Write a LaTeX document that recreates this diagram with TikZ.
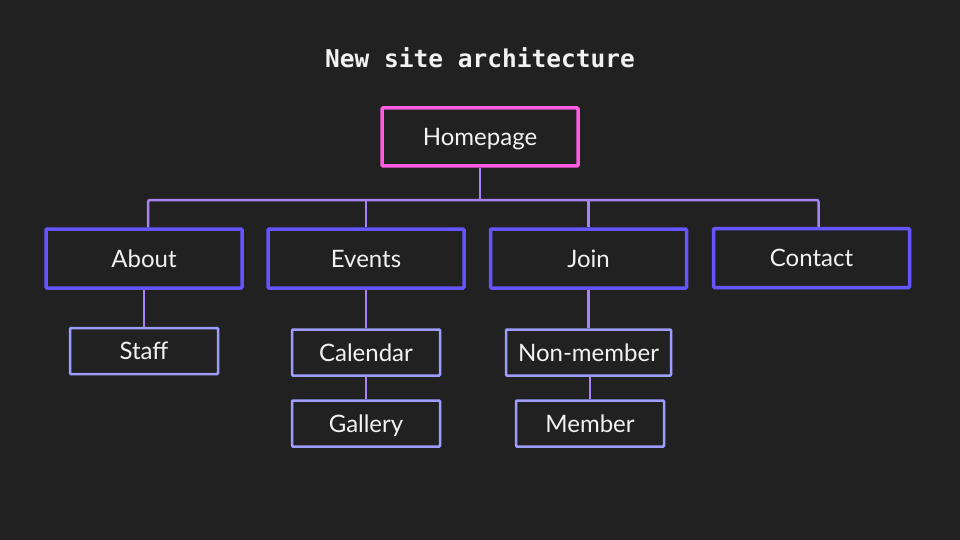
\documentclass[tikz,border=0pt]{standalone}
\usepackage{fontspec}
\setmainfont{Lato}
\newfontfamily\titlefont{DejaVu Sans Mono}
\definecolor{bg}{HTML}{212121}
\definecolor{pinkline}{HTML}{FF5CE1}
\definecolor{indigo}{HTML}{6655FF}
\definecolor{lavender}{HTML}{A882F7}
\definecolor{periwinkle}{HTML}{9D9DFF}
\definecolor{ink}{HTML}{F2F2F2}
\tikzset{
  page/.style={draw, rectangle, text=ink, font=\fontsize{24}{28}\selectfont,
    inner sep=0pt, text height=17.3pt, text depth=0pt, rounded corners=1pt},
  rootbox/.style={page, draw=pinkline, line width=3.5pt, minimum width=196pt, minimum height=58pt},
  sectionbox/.style={page, draw=indigo, line width=3.5pt, minimum width=196pt, minimum height=59pt},
  subbox/.style={page, draw=periwinkle, line width=2.5pt, minimum width=148pt, minimum height=46pt},
  link/.style={draw=lavender, line width=2.5pt, rounded corners=2pt},
}
\begin{document}
\begin{tikzpicture}[x=1pt, y=-1pt]
  \fill[bg] (0,0) rectangle (960,540);
  \useasboundingbox (0,0) rectangle (960,540);

  \node[text=ink, font=\titlefont\bfseries\fontsize{24.5}{28}\selectfont] (title) at (480,58) {New site architecture};

  % top level
  \node[rootbox] (home) at (480,137) {Homepage};

  % sections
  \node[sectionbox] (about)   at (144,258.5) {About};
  \node[sectionbox] (events)  at (366,258.5) {Events};
  \node[sectionbox] (join)    at (588.5,258.5) {Join};
  \node[sectionbox] (contact) at (811.5,258) {Contact};

  % sub pages
  \node[subbox] (staff)     at (144,351) {Staff};
  \node[subbox] (calendar)  at (366,352.5) {Calendar};
  \node[subbox] (gallery)   at (366,423.5) {Gallery};
  \node[subbox, minimum width=165pt] (nonmember) at (588.5,352.5) {Non-member};
  \node[subbox] (member)    at (590,423.5) {Member};

  % branch bar under the homepage
  \coordinate (bar) at (480,200);
  \draw[link] (home.south) -- (bar);
  \draw[link] ([xshift=4pt]about.north) |- (bar);
  \draw[link] ([xshift=7pt]contact.north) |- (bar);
  \draw[link] (events.north) -- (events.north |- bar);
  \draw[link] (join.north) -- (join.north |- bar);

  % section to sub page links
  \draw[link] (about.south) -- (staff.north);
  \draw[link] (events.south) -- (calendar.north);
  \draw[link] (calendar.south) -- (gallery.north);
  \draw[link] (join.south) -- (nonmember.north);
  \draw[link] ([xshift=1.5pt]nonmember.south) -- (member.north);
\end{tikzpicture}
\end{document}
